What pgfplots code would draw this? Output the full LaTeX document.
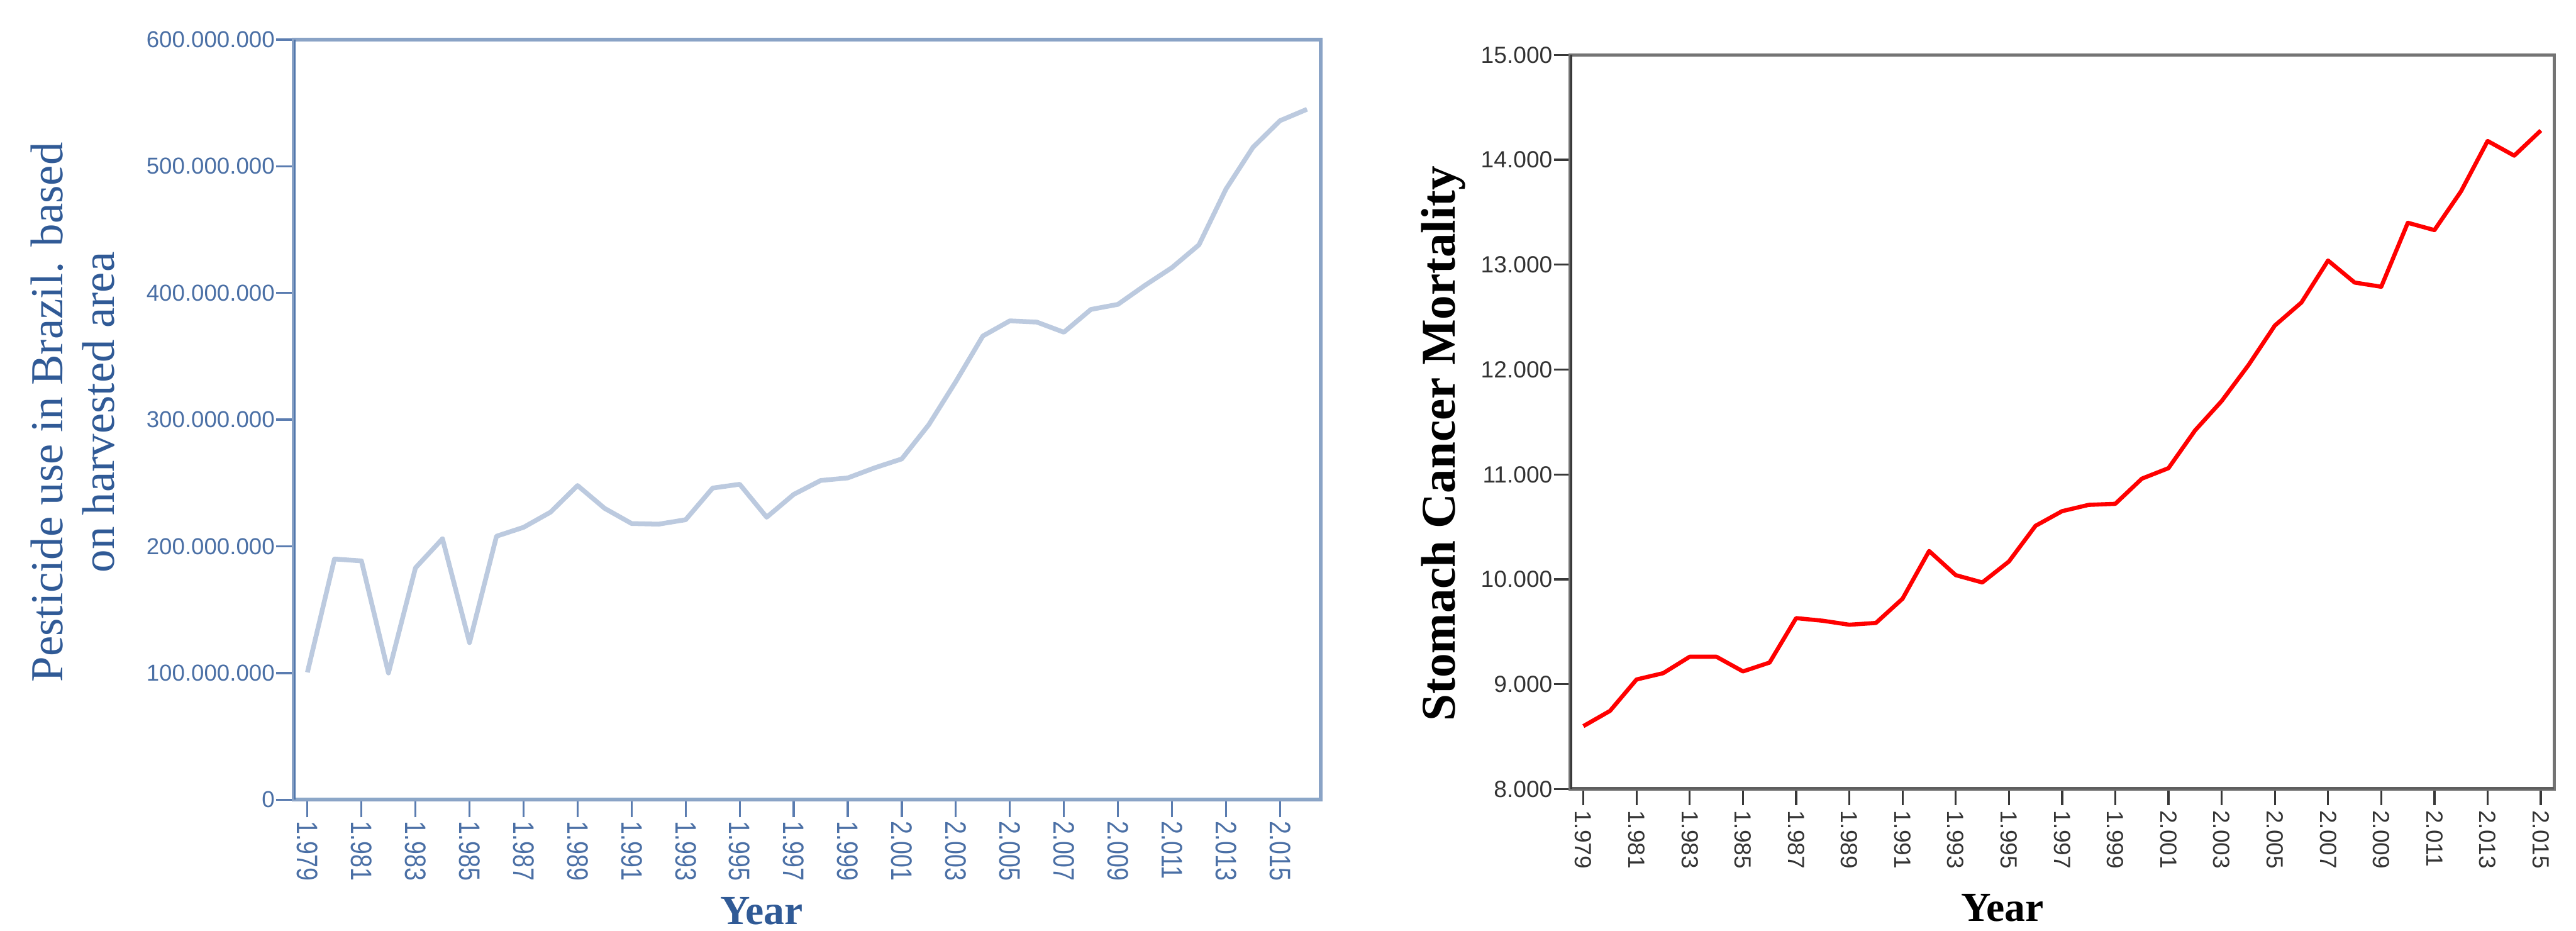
\documentclass[border=0pt]{standalone}
\usepackage{fontspec}
\setmainfont{Liberation Serif}
\newfontfamily\arialfont{Liberation Sans}
\usepackage{pgfplots}
\pgfplotsset{compat=1.18}
\definecolor{ltxt}{HTML}{4A6FA5}
\definecolor{ltitle}{HTML}{305A96}
\definecolor{lline}{HTML}{BCCADF}
\definecolor{lspineL}{HTML}{4E74AA}
\definecolor{lspineB}{HTML}{8CA7C8}
\definecolor{lbox}{HTML}{8AA3C6}
\definecolor{ltick}{HTML}{5A7CB0}
\definecolor{rtxt}{HTML}{333333}
\definecolor{rspineL}{HTML}{383838}
\definecolor{rspineB}{HTML}{5E5E5E}
\definecolor{rbox}{HTML}{747474}
\pgfplotstableread{
x y
1979 100500000
1980 190000000
1981 188500000
1982 100000000
1983 183000000
1984 206000000
1985 124000000
1986 208000000
1987 215000000
1988 227000000
1989 248000000
1990 230000000
1991 218000000
1992 217500000
1993 221000000
1994 246000000
1995 249000000
1996 223000000
1997 241000000
1998 252000000
1999 254000000
2000 262000000
2001 269000000
2002 296000000
2003 330000000
2004 366000000
2005 378000000
2006 377000000
2007 369000000
2008 387000000
2009 391000000
2010 406000000
2011 420000000
2012 438000000
2013 482000000
2014 515000000
2015 536000000
2016 545000000
}\pesticide
\pgfplotstableread{
x y
1979 8600
1980 8745
1981 9045
1982 9105
1983 9262
1984 9262
1985 9122
1986 9206
1987 9630
1988 9605
1989 9567
1990 9584
1991 9815
1992 10270
1993 10040
1994 9970
1995 10170
1996 10510
1997 10650
1998 10710
1999 10720
2000 10960
2001 11060
2002 11420
2003 11700
2004 12040
2005 12420
2006 12640
2007 13040
2008 12830
2009 12790
2010 13400
2011 13330
2012 13700
2013 14180
2014 14040
2015 14280
}\stomach
\begin{document}
\begin{tikzpicture}
\useasboundingbox (0,0) rectangle (871.2pt,314.6pt);
% ---------------- left panel ----------------
\begin{axis}[
  at={(99.4pt,44.2pt)}, anchor=south west,
  scale only axis, width=347.2pt, height=257pt,
  xmin=1978.5, xmax=2016.5, ymin=0, ymax=600000000,
  xtick={1979,1981,...,2015},
  ytick={0,100000000,200000000,300000000,400000000,500000000,600000000},
  scaled x ticks=false, scaled y ticks=false,
  xtick pos=bottom, ytick pos=left,
  tick align=outside, major tick length=6pt,
  tick style={color=ltick, line width=0.7pt},
  axis line style={draw=lbox, line width=1.3pt},
  /pgf/number format/.cd, fixed, precision=0, assume math mode=true, 1000 sep={.},
  /pgfplots/.cd,
  tick label style={font=\arialfont\fontsize{7.8}{9.5}\selectfont, text=ltxt},
  yticklabel style={inner xsep=0.3pt},
  xticklabel style={rotate=-90, anchor=west, xscale=0.8, inner sep=1.5pt,
    font=\arialfont\fontsize{10}{12}\selectfont},
  ylabel={Pesticide use in Brazil. based\\on harvested area},
  ylabel style={at={(axis description cs:-0.2154,0.5097)}, anchor=center, align=center,
    font=\fontsize{15.5}{17.4}\selectfont, text=ltitle},
  xlabel={Year},
  xlabel style={at={(axis description cs:0.4556,-0.164)}, anchor=base, inner sep=0pt,
    font=\bfseries\fontsize{14}{16}\selectfont, text=ltitle},
]
\addplot[color=lline, line width=1.6pt, line join=round] table[x=x, y=y] {\pesticide};
\draw[lspineB, line width=1.6pt] (rel axis cs:0,0) -- (rel axis cs:1,0);
\draw[lspineL, line width=1.1pt] (rel axis cs:0,0) -- (rel axis cs:0,1);
\end{axis}
% ---------------- right panel ----------------
\begin{axis}[
  at={(531pt,47.8pt)}, anchor=south west,
  scale only axis, width=332.8pt, height=248.2pt,
  xmin=1978.5, xmax=2015.5, ymin=8000, ymax=15000,
  xtick={1979,1981,...,2015},
  ytick={8000,9000,10000,11000,12000,13000,14000,15000},
  scaled x ticks=false, scaled y ticks=false,
  xtick pos=bottom, ytick pos=left,
  tick align=outside, major tick length=5.5pt,
  tick style={color=rspineL, line width=0.7pt},
  axis line style={draw=rbox, line width=1.1pt},
  /pgf/number format/.cd, fixed, precision=0, assume math mode=true, 1000 sep={.},
  /pgfplots/.cd,
  tick label style={font=\arialfont\fontsize{7.9}{9.5}\selectfont, text=rtxt},
  yticklabel style={inner xsep=0.3pt},
  xticklabel style={rotate=-90, anchor=west, inner sep=1.5pt},
  ylabel={Stomach Cancer Mortality},
  ylabel style={at={(axis description cs:-0.129,0.4706)}, anchor=center,
    font=\bfseries\fontsize{16.4}{18}\selectfont, text=black},
  xlabel={Year},
  xlabel style={at={(axis description cs:0.4393,-0.1805)}, anchor=base, inner sep=0pt,
    font=\bfseries\fontsize{14}{16}\selectfont, text=black},
]
\addplot[color=red, line width=1.4pt, line join=round] table[x=x, y=y] {\stomach};
\draw[rspineB, line width=1.6pt] (rel axis cs:0,0) -- (rel axis cs:1,0);
\draw[rspineL, line width=1.6pt] (rel axis cs:0,0) -- (rel axis cs:0,1);
\end{axis}
\end{tikzpicture}
\end{document}
